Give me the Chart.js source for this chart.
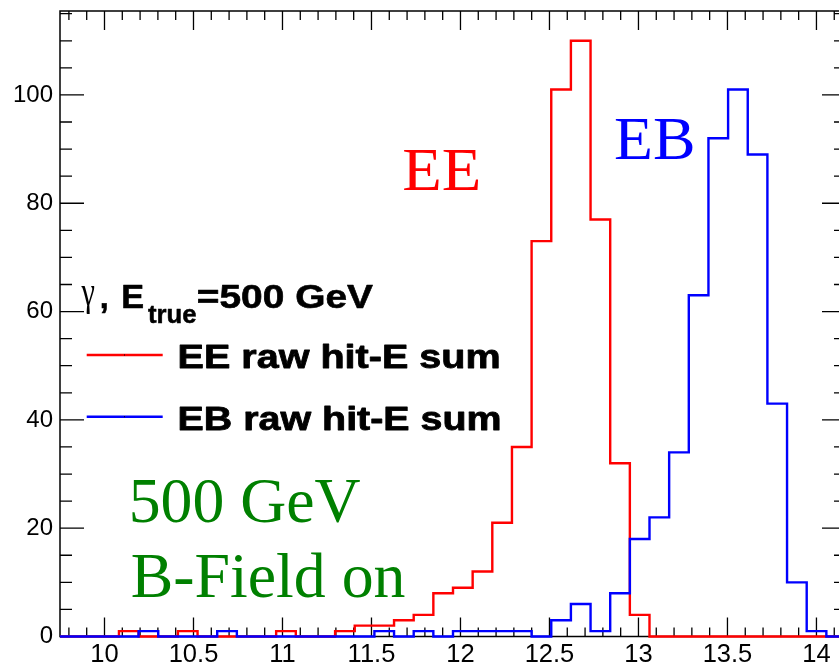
<!DOCTYPE html>
<html><head><meta charset="utf-8">
<script src="https://cdn.jsdelivr.net/npm/chart.js@4"></script>
<style>
html,body{margin:0;padding:0;overflow:hidden;background:#fff;width:839px;height:665px}
#wrap{position:absolute;left:0;top:0;width:850px;height:665px}
</style>
</head><body><div id="wrap"><canvas id="c" width="850" height="665"></canvas></div>
<script>
// ---- data ----
const binLow = 9.75;
const binWidth = 0.1104;
const eeCounts = [0,0,0,1,0,0,1,0,0,0, 0,1,0,0,1,2,2,3,4,8, 9,12,21,35,73,101,110,77,32,4, 0,0,0,0,0,0,0,0,0,0];
const ebCounts = [0,0,0,0,1,0,0,0,1,0, 0,0,0,0,0,0,1,0,1,0, 1,1,1,1,0,3,6,1,8,18, 22,34,63,92,101,89,43,10,1,0];
const xTickLabels = [10,10.5,11,11.5,12,12.5,13,13.5,14];
const yTickLabels = [0,20,40,60,80,100];
const yMax = 115.5;
const seriesNames = ['EE raw hit-E sum','EB raw hit-E sum'];

const SANS = '"Liberation Sans", Arial, Helvetica, sans-serif';
const SERIF = '"Liberation Serif", "Times New Roman", serif';

function histPoints(counts){
  const pts = counts.map((v,i)=>({x: binLow + i*binWidth, y: v}));
  pts.push({x: binLow + counts.length*binWidth, y: counts[counts.length-1]});
  return pts;
}

function drawInk(ctx, text, font, color, inkL, inkR, baseline, stroke){
  ctx.save();
  ctx.font = font;
  ctx.fillStyle = color;
  ctx.strokeStyle = color;
  ctx.textBaseline = 'alphabetic';
  ctx.textAlign = 'left';
  const m = ctx.measureText(text);
  const ink = m.actualBoundingBoxRight + m.actualBoundingBoxLeft;
  const sx = (inkR - inkL) / ink;
  ctx.translate(inkL + m.actualBoundingBoxLeft * sx, baseline);
  ctx.scale(sx, 1);
  ctx.fillText(text, 0, 0);
  if (stroke){ ctx.lineWidth = stroke; ctx.lineJoin = 'round'; ctx.strokeText(text, 0, 0); }
  ctx.restore();
}
function drawInkBox(ctx, text, font, color, l, r, top, bottom){
  ctx.save();
  ctx.font = font;
  ctx.fillStyle = color;
  ctx.textBaseline = 'alphabetic';
  ctx.textAlign = 'left';
  const m = ctx.measureText(text);
  const w = m.actualBoundingBoxRight + m.actualBoundingBoxLeft;
  const h = m.actualBoundingBoxAscent + m.actualBoundingBoxDescent;
  const sx = (r - l) / w, sy = (bottom - top) / h;
  ctx.translate(l + m.actualBoundingBoxLeft * sx, top + m.actualBoundingBoxAscent * sy);
  ctx.scale(sx, sy);
  ctx.fillText(text, 0, 0);
  ctx.restore();
}

const framePlugin = {
  id: 'rootFrame',
  beforeDatasetsDraw(chart){
    const ctx = chart.ctx, a = chart.chartArea;
    const xs = chart.scales.x, ys = chart.scales.y;
    ctx.save();
    ctx.strokeStyle = '#000';
    ctx.lineWidth = 1.5;
    ctx.strokeRect(a.left, a.top, a.right - a.left, a.bottom - a.top);
    ctx.lineWidth = 1.3;
    ctx.beginPath();
    for (let i = 98; i <= 141; i++){
      const v = i/10;
      const major = (i % 5 === 0) && v >= 10;
      const len = major ? 19 : 9;
      const px = xs.getPixelForValue(v);
      if (px < a.left || px > a.right) continue;
      ctx.moveTo(px, a.bottom); ctx.lineTo(px, a.bottom - len);
      ctx.moveTo(px, a.top); ctx.lineTo(px, a.top + len);
    }
    for (let v = 5; v <= 115; v += 5){
      const major = yTickLabels.includes(v);
      const len = major ? 24 : 12;
      const py = ys.getPixelForValue(v);
      ctx.moveTo(a.left, py); ctx.lineTo(a.left + len, py);
      ctx.moveTo(a.right, py); ctx.lineTo(a.right - len, py);
    }
    ctx.stroke();
    ctx.restore();
  },
  afterDraw(chart){
    const ctx = chart.ctx;
    drawInk(ctx, 'EE', '62px ' + SERIF, '#ff0000', 403.3, 478.3, 189.5);
    drawInk(ctx, 'EB', '62px ' + SERIF, '#0000ff', 615, 693, 158.5);
    drawInk(ctx, '500 GeV', '63px ' + SERIF, '#008000', 131.7, 360, 521.7);
    drawInk(ctx, 'B-Field on', '63px ' + SERIF, '#008000', 131.7, 405, 596.7);
    drawInkBox(ctx, 'γ', '34px ' + SERIF, '#000', 80.7, 95, 285.5, 313.3);
    drawInk(ctx, ',', 'bold 32px ' + SANS, '#000', 101.7, 106.7, 308.3, 0.6);
    drawInk(ctx, 'E', 'bold 32.5px ' + SANS, '#000', 123.3, 143.3, 308.3, 0.6);
    drawInk(ctx, 'true', 'bold 25px ' + SANS, '#000', 148, 196.7, 323.3, 0.5);
    drawInk(ctx, '=500 GeV', 'bold 32.5px ' + SANS, '#000', 198, 373.3, 308.3, 0.6);
    ctx.save();
    ctx.lineWidth = 2.5;
    ctx.strokeStyle = '#ff0000';
    ctx.beginPath(); ctx.moveTo(86.7, 355); ctx.lineTo(162.7, 355); ctx.stroke();
    ctx.strokeStyle = '#0000ff';
    ctx.beginPath(); ctx.moveTo(86.7, 416.7); ctx.lineTo(162.7, 416.7); ctx.stroke();
    ctx.fillStyle = '#000';
    ctx.fillRect(124, 354.5, 1, 1);
    ctx.fillRect(124, 416.2, 1, 1);
    ctx.restore();
    drawInk(ctx, seriesNames[0], 'bold 32.5px ' + SANS, '#000', 180, 498.3, 368.3, 0.8);
    drawInk(ctx, seriesNames[1], 'bold 32.5px ' + SANS, '#000', 180, 499.3, 430, 0.8);
  }
};

new Chart(document.getElementById('c'), {
  type: 'line',
  data: {
    datasets: [
      { label: seriesNames[0], data: histPoints(eeCounts), borderColor: '#ff0000', borderWidth: 2.4,
        stepped: 'before', pointRadius: 0, fill: false, order: 2, clip: false },
      { label: seriesNames[1], data: histPoints(ebCounts), borderColor: '#0000ff', borderWidth: 2.4,
        stepped: 'before', pointRadius: 0, fill: false, order: 1, clip: false }
    ]
  },
  options: {
    responsive: false,
    animation: false,
    events: [],
    layout: { padding: { left: 0, right: 4, top: 11, bottom: 0 } },
    plugins: { legend: { display: false }, tooltip: { enabled: false }, title: { display: false } },
    scales: {
      x: {
        type: 'linear',
        min: binLow, max: binLow + eeCounts.length * binWidth,
        grid: { display: false, drawTicks: false },
        border: { display: false },
        afterBuildTicks: s => { s.ticks = xTickLabels.map(v => ({ value: v })); },
        afterFit: s => { s.height = 28.5; s.paddingLeft = 0; s.paddingRight = 0; },
        ticks: { color: '#000', font: { family: SANS, size: 25.5 }, padding: 3, maxRotation: 0, autoSkip: false,
                 callback: v => String(v) }
      },
      y: {
        type: 'linear',
        min: 0, max: yMax,
        grid: { display: false, drawTicks: false },
        border: { display: false },
        afterBuildTicks: s => { s.ticks = yTickLabels.map(v => ({ value: v })); },
        afterFit: s => { s.width = 60; s.paddingTop = 0; s.paddingBottom = 0; },
        ticks: { color: '#000', font: { family: SANS, size: 24 }, padding: 7, autoSkip: false,
                 callback: v => String(v) }
      }
    }
  },
  plugins: [framePlugin]
});
</script>
</body></html>
